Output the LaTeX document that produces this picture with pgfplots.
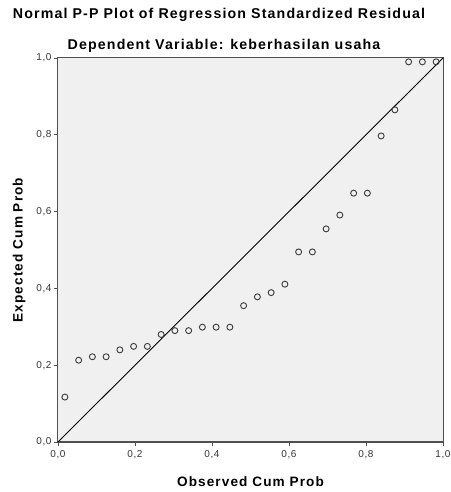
\documentclass[border=0pt]{standalone}
\usepackage{fontspec}
\setmainfont{Liberation Sans}
\usepackage{pgfplots}
\pgfplotsset{compat=1.18}
\definecolor{bgc}{HTML}{F0F0F0}
\definecolor{frm}{HTML}{505050}
\definecolor{mk}{HTML}{3A3A3A}
\newfontfamily\spaced[LetterSpace=8]{Liberation Sans}
\newfontfamily\spacedsm[LetterSpace=6]{Liberation Sans}
\begin{document}
\begin{tikzpicture}[x=1pt,y=1pt]
\path[use as bounding box] (0,0) rectangle (450,492);
\node[font=\spaced\fontsize{14.2}{16}\selectfont\bfseries] at (219,477.5) {Normal P-P Plot of Regression Standardized Residual};
\node[font=\spaced\fontsize{14.2}{16}\selectfont\bfseries] at (224,446.5) {Dependent Variable: keberhasilan usaha};
\begin{axis}[
  at={(58pt,50pt)}, anchor=south west,
  scale only axis, width=385pt, height=384pt,
  xmin=0, xmax=1, ymin=0, ymax=1,
  axis background/.style={fill=bgc},
  axis line style={frm, line width=1pt},
  xtick={0,0.2,...,1}, ytick={0,0.2,...,1},
  tick style={frm, line width=0.8pt},
  tick align=outside, major tick length=4pt,
  xtick pos=bottom, ytick pos=left,
  /pgf/number format/.cd, use comma, fixed, fixed zerofill, precision=1, assume math mode=true,
  /pgfplots/.cd,
  ticklabel style={font=\spacedsm\fontsize{10}{12}\selectfont, text=black!80},
  xticklabel style={yshift=-1pt},
  yticklabel style={xshift=1pt},
  xlabel={Observed Cum Prob}, ylabel={Expected Cum Prob},
  label style={font=\spaced\fontsize{13.6}{15}\selectfont\bfseries},
  xlabel style={yshift=-11pt},
  ylabel style={yshift=4pt},
  clip=false,
]
\addplot[black, line width=0.9pt, forget plot] coordinates {(0,0) (1,1)};
\addplot[only marks, mark=o, mark size=3pt, mark options={draw=mk, line width=0.9pt}] coordinates {
(0.0179,0.117) (0.0536,0.213) (0.0893,0.222) (0.1250,0.222) (0.1607,0.240)
(0.1964,0.249) (0.2321,0.249) (0.2679,0.280) (0.3036,0.290) (0.3393,0.290)
(0.3750,0.299) (0.4107,0.299) (0.4464,0.299) (0.4821,0.355) (0.5179,0.378)
(0.5536,0.389) (0.5893,0.411) (0.6250,0.495) (0.6607,0.495) (0.6964,0.555)
(0.7321,0.591) (0.7679,0.648) (0.8036,0.648) (0.8393,0.797) (0.8750,0.865)
(0.9107,0.990) (0.9464,0.990) (0.9821,0.990)
};
\end{axis}
\end{tikzpicture}
\end{document}
